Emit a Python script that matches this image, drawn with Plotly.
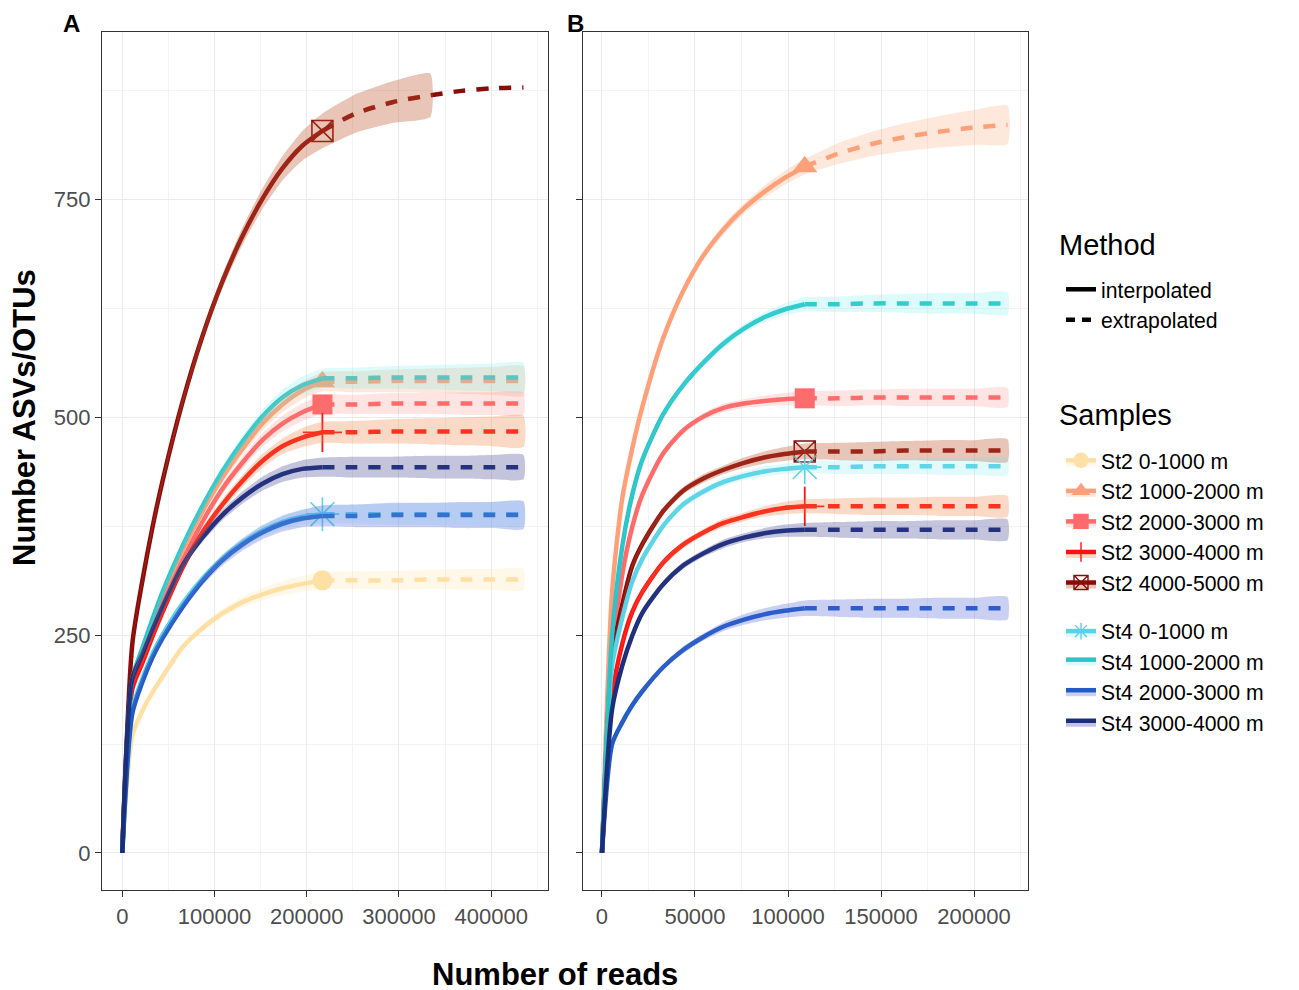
import plotly.graph_objects as go

# ---------------- data ----------------
SAMPLES = ["St2 0-1000 m", "St2 1000-2000 m", "St2 2000-3000 m", "St2 3000-4000 m",
           "St2 4000-5000 m", "St4 0-1000 m", "St4 1000-2000 m", "St4 2000-3000 m",
           "St4 3000-4000 m"]

# Panel A: sample sizes (reads) at the knots, interpolated part and extrapolated part
XA_INT = [0, 10850, 21700, 32550, 43400, 65100, 86800, 108500, 130200, 151900, 173600, 195300, 217000]
XA_EXT = [217000, 253000, 293000, 334000, 368000, 401000, 435000]

A_INTERP = {
    "St2 0-1000 m":    [0, 135, 163, 184, 202, 236, 258, 275, 288, 297, 304, 309, 313],
    "St2 1000-2000 m": [0, 199, 233, 265, 295, 347, 392, 431, 464, 493, 515, 531, 541],
    "St2 2000-3000 m": [0, 197, 228, 258, 285, 335, 380, 418, 448, 474, 493, 506, 515],
    "St2 3000-4000 m": [0, 188, 218, 248, 276, 327, 368, 400, 427, 450, 467, 477, 483],
    "St2 4000-5000 m": [0, 240, 312, 373, 426, 517, 593, 656, 708, 751, 786, 812, 829],
    "St4 0-1000 m":    [0, 165, 200, 228, 250, 286, 315, 338, 356, 370, 380, 386, 389],
    "St4 1000-2000 m": [0, 200, 235, 268, 299, 352, 398, 438, 472, 501, 523, 537, 545],
    "St4 2000-3000 m": [0, 160, 196, 224, 246, 282, 312, 336, 354, 368, 378, 384, 387],
    "St4 3000-4000 m": [0, 200, 228, 256, 282, 330, 362, 388, 408, 424, 435, 441, 443],
}
A_EXTRAP = {
    "St2 0-1000 m":    [313, 313, 314, 314, 314, 314],
    "St2 1000-2000 m": [541, 542, 542, 542, 542, 542],
    "St2 2000-3000 m": [515, 516, 516, 516, 516, 516],
    "St2 3000-4000 m": [483, 484, 484, 484, 484, 484],
    "St2 4000-5000 m": [849, 862, 870, 875, 878, 879],
    "St4 0-1000 m":    [389, 389, 389, 389, 389, 389],
    "St4 1000-2000 m": [545, 546, 546, 546, 546, 546],
    "St4 2000-3000 m": [387, 388, 388, 388, 388, 388],
    "St4 3000-4000 m": [443, 443, 443, 443, 443, 443],
}
# half width of the 95% confidence band (interpolated knots + extrapolated knots)
A_CI = {
    "St2 0-1000 m":    [0, 1, 2, 2, 3, 3, 4, 5, 6, 7, 8, 9, 10, 10, 11, 11, 12, 12, 12],
    "St2 1000-2000 m": [0, 1, 2, 3, 3, 4, 5, 6, 7, 8, 9, 10, 11, 12, 13, 14, 15, 16, 17],
    "St2 2000-3000 m": [0, 1, 2, 3, 3, 4, 5, 6, 7, 8, 9, 10, 11, 11, 12, 12, 13, 13, 13],
    "St2 3000-4000 m": [0, 1, 2, 3, 3, 4, 5, 6, 7, 8, 9, 11, 12, 13, 14, 15, 16, 17, 18],
    "St2 4000-5000 m": [0, 2, 3, 4, 4, 5, 6, 8, 10, 12, 14, 17, 20, 22, 24, 25, None, None, None],
    "St4 0-1000 m":    [0, 1, 2, 2, 3, 3, 4, 5, 6, 7, 8, 9, 10, 11, 12, 13, 13, 14, 14],
    "St4 1000-2000 m": [0, 1, 2, 2, 3, 4, 5, 6, 7, 8, 9, 10, 11, 12, 13, 14, 15, 16, 17],
    "St4 2000-3000 m": [0, 1, 2, 3, 3, 4, 5, 6, 7, 8, 9, 10, 12, 13, 14, 14, 15, 15, 16],
    "St4 3000-4000 m": [0, 1, 2, 3, 3, 4, 5, 6, 7, 8, 9, 10, 11, 12, 12, 13, 13, 14, 14],
}

# Panel B
XB_INT = [0, 5450, 10900, 16350, 21800, 32700, 43600, 54500, 65400, 76300, 87200, 98100, 109000]
XB_EXT = [109000, 127000, 145000, 163000, 181000, 200000, 218000]

B_INTERP = {
    "St2 1000-2000 m": [0, 300, 407, 465, 513, 590, 645, 686, 716, 740, 759, 775, 788],
    "St2 2000-3000 m": [0, 230, 320, 375, 412, 458, 485, 501, 511, 516, 519, 521, 522],
    "St2 3000-4000 m": [0, 180, 240, 277, 300, 333, 354, 368, 379, 386, 392, 396, 398],
    "St2 4000-5000 m": [0, 225, 285, 330, 355, 392, 416, 430, 440, 448, 454, 458, 461],
    "St4 0-1000 m":    [0, 215, 270, 312, 338, 375, 400, 415, 426, 433, 438, 441, 443],
    "St4 1000-2000 m": [0, 250, 352, 412, 452, 503, 537, 563, 585, 602, 615, 624, 630],
    "St4 2000-3000 m": [0, 125, 150, 170, 186, 213, 233, 248, 260, 268, 274, 278, 281],
    "St4 3000-4000 m": [0, 165, 215, 250, 276, 308, 330, 344, 355, 362, 367, 370, 371],
}
B_EXTRAP = {
    "St2 1000-2000 m": [803, 814, 822, 828, 833, 836],
    "St2 2000-3000 m": [522, 523, 523, 523, 523, 523],
    "St2 3000-4000 m": [398, 398, 398, 398, 398, 398],
    "St2 4000-5000 m": [461, 461, 462, 462, 462, 462],
    "St4 0-1000 m":    [443, 444, 444, 444, 444, 444],
    "St4 1000-2000 m": [630, 631, 631, 631, 631, 631],
    "St4 2000-3000 m": [281, 281, 281, 281, 281, 281],
    "St4 3000-4000 m": [371, 371, 371, 371, 371, 371],
}
B_CI = {
    "St2 1000-2000 m": [0, 2, 3, 3, 4, 4, 5, 5, 6, 6, 7, 8, 9, 12, 14, 16, 18, 20, 22],
    "St2 2000-3000 m": [0, 1, 2, 2, 3, 3, 4, 4, 5, 5, 6, 7, 8, 9, 9, 10, 10, 10, 11],
    "St2 3000-4000 m": [0, 1, 2, 2, 3, 3, 4, 4, 5, 5, 6, 7, 8, 9, 10, 10, 11, 11, 12],
    "St2 4000-5000 m": [0, 1, 2, 3, 3, 4, 4, 5, 5, 6, 7, 8, 9, 10, 11, 11, 12, 12, 13],
    "St4 0-1000 m":    [0, 1, 2, 2, 3, 3, 4, 4, 5, 5, 6, 6, 7, 8, 9, 9, 10, 10, 10],
    "St4 1000-2000 m": [0, 1, 2, 2, 3, 3, 4, 4, 5, 5, 6, 7, 8, 9, 10, 11, 12, 12, 13],
    "St4 2000-3000 m": [0, 1, 2, 2, 3, 3, 4, 4, 5, 6, 7, 8, 9, 10, 11, 11, 12, 12, 13],
    "St4 3000-4000 m": [0, 1, 2, 2, 3, 3, 4, 4, 5, 5, 6, 7, 8, 9, 10, 10, 11, 11, 12],
}

Y_TICKS = [0, 250, 500, 750]
XA_TICKS = [0, 100000, 200000, 300000, 400000]
XB_TICKS = [0, 50000, 100000, 150000, 200000]

# ---------------- styles ----------------
LINE_COLORS = {
    "St2 0-1000 m": "#FFE0A6", "St2 1000-2000 m": "#FFA07A", "St2 2000-3000 m": "#FF6A6A",
    "St2 3000-4000 m": "#FF1212", "St2 4000-5000 m": "#8B0A0A", "St4 0-1000 m": "#5AD2E6",
    "St4 1000-2000 m": "#2BC4C8", "St4 2000-3000 m": "#1F5BC2", "St4 3000-4000 m": "#1B2E7C",
}
FILL_COLORS = {
    "St2 0-1000 m": "rgba(255,222,160,0.25)", "St2 1000-2000 m": "rgba(250,165,115,0.25)",
    "St2 2000-3000 m": "rgba(255,120,120,0.2)", "St2 3000-4000 m": "rgba(240,130,70,0.3)",
    "St2 4000-5000 m": "rgba(190,90,50,0.35)", "St4 0-1000 m": "rgba(110,230,240,0.2)",
    "St4 1000-2000 m": "rgba(90,235,235,0.2)", "St4 2000-3000 m": "rgba(80,100,220,0.3)",
    "St4 3000-4000 m": "rgba(60,60,140,0.3)",
}
MARKERS = {
    "St2 0-1000 m": ("circle", 20, 0), "St2 1000-2000 m": ("triangle-up", 22, 0),
    "St2 2000-3000 m": ("square", 20, 0), "St2 3000-4000 m": ("cross-thin-open", 28, 1.8),
    "St2 4000-5000 m": ("square-x-open", 21, 1.6), "St4 0-1000 m": ("asterisk-open", 28, 1.6),
}
FONT = "Liberation Sans, Arial, sans-serif"
LW = 4.5
DASH = "12px,11px"
SMOOTH = 0.7

# page offset of the plot (the browser adds an 8 px body margin)
OFF = 8
W, H = 1299, 990


def px_x(p):
    return (p - OFF) / W


def px_y(p):
    return 1 - (p - OFF) / H


fig = go.Figure()

panels = [
    (XA_INT, XA_EXT, A_INTERP, A_EXTRAP, A_CI, "x", "y"),
    (XB_INT, XB_EXT, B_INTERP, B_EXTRAP, B_CI, "x2", "y2"),
]

# layer 1: observed points
for xi, xe, interp, extrap, ci, xa, ya in panels:
    for name in SAMPLES:
        if name in interp and name in MARKERS:
            sym, size, lw = MARKERS[name]
            fig.add_trace(go.Scatter(
                x=[xi[-1]], y=[interp[name][-1]], mode="markers", xaxis=xa, yaxis=ya,
                marker=dict(symbol=sym, size=size, color=LINE_COLORS[name],
                            line=dict(width=lw, color=LINE_COLORS[name])),
                showlegend=False, hoverinfo="skip"))

# layer 2: lines
for xi, xe, interp, extrap, ci, xa, ya in panels:
    for name in SAMPLES:
        if name not in interp:
            continue
        fig.add_trace(go.Scatter(
            x=xi, y=interp[name], mode="lines", xaxis=xa, yaxis=ya,
            line=dict(color=LINE_COLORS[name], width=LW, shape="spline", smoothing=SMOOTH),
            showlegend=False, hoverinfo="skip"))
        fig.add_trace(go.Scatter(
            x=xe, y=[interp[name][-1]] + extrap[name], mode="lines", xaxis=xa, yaxis=ya,
            line=dict(color=LINE_COLORS[name], width=LW, dash=DASH, shape="spline", smoothing=SMOOTH),
            showlegend=False, hoverinfo="skip"))

# layer 3: confidence bands on top
for xi, xe, interp, extrap, ci, xa, ya in panels:
    for name in SAMPLES:
        if name not in interp:
            continue
        xs = xi + xe[1:]
        ys = interp[name] + extrap[name]
        pts = [(x, y, c) for x, y, c in zip(xs, ys, ci[name]) if c is not None]
        bx = [p[0] for p in pts] + [p[0] for p in reversed(pts)]
        by = [p[1] + p[2] for p in pts] + [p[1] - p[2] for p in reversed(pts)]
        fig.add_trace(go.Scatter(
            x=bx, y=by, mode="lines", fill="toself", fillcolor=FILL_COLORS[name],
            line=dict(width=0, shape="spline", smoothing=0.5), xaxis=xa, yaxis=ya,
            showlegend=False, hoverinfo="skip"))

# legend entries: Method
fig.add_trace(go.Scatter(x=[None], y=[None], mode="lines", name="interpolated",
                         line=dict(color="black", width=LW), legend="legend"))
fig.add_trace(go.Scatter(x=[None], y=[None], mode="lines", name="extrapolated",
                         line=dict(color="black", width=LW, dash="9px,7px"), legend="legend"))
# legend entries: Samples
for name in SAMPLES:
    m = MARKERS.get(name)
    mk = dict(symbol=m[0], size=14, color=LINE_COLORS[name],
              line=dict(width=1.4, color=LINE_COLORS[name])) if m else None
    fig.add_trace(go.Scatter(
        x=[None], y=[None], mode="lines+markers" if m else "lines", name=name,
        line=dict(color=LINE_COLORS[name], width=LW), marker=mk,
        fill="toself", fillcolor=FILL_COLORS[name],
        legend="legend2", legendgroup=name[:3]))

axis_common = dict(
    showgrid=True, gridcolor="#EBEBEB", gridwidth=1.2,
    showline=True, mirror=True, linecolor="#333333", linewidth=1.2,
    ticks="outside", ticklen=6, tickcolor="#333333", tickwidth=1.2,
    tickfont=dict(family=FONT, size=22, color="#4D4D4D"), zeroline=False,
)
minor_x_a = dict(dtick=50000, tick0=0, showgrid=True, gridcolor="#F3F3F3", gridwidth=0.8)
minor_x_b = dict(dtick=25000, tick0=0, showgrid=True, gridcolor="#F3F3F3", gridwidth=0.8)
minor_y = dict(dtick=125, tick0=0, showgrid=True, gridcolor="#F3F3F3", gridwidth=0.8)

LEG_FONT = dict(family=FONT, size=21.2, color="black")

fig.update_layout(
    width=W, height=H, margin=dict(l=0, r=0, t=0, b=0),
    paper_bgcolor="white", plot_bgcolor="white",
    xaxis=dict(domain=[px_x(102), px_x(548)], range=[-22000, 461600],
               tickvals=XA_TICKS, ticktext=[str(v) for v in XA_TICKS],
               minor=minor_x_a, anchor="y", **axis_common),
    xaxis2=dict(domain=[px_x(583), px_x(1028)], range=[-10200, 229000],
                tickvals=XB_TICKS, ticktext=[str(v) for v in XB_TICKS],
                minor=minor_x_b, anchor="y2", **axis_common),
    yaxis=dict(domain=[px_y(890), px_y(32)], range=[-42.5, 942.6],
               tickvals=Y_TICKS, ticktext=[str(v) for v in Y_TICKS],
               minor=minor_y, anchor="x", **axis_common),
    yaxis2=dict(domain=[px_y(890), px_y(32)], range=[-42.5, 942.6], matches="y",
                tickvals=Y_TICKS, showticklabels=False,
                minor=minor_y, anchor="x2", **axis_common),
    legend=dict(x=px_x(1061), y=px_y(269), xanchor="left", yanchor="top",
                font=LEG_FONT, bgcolor="rgba(0,0,0,0)", itemwidth=30, tracegroupgap=0),
    legend2=dict(x=px_x(1061), y=px_y(440), xanchor="left", yanchor="top",
                 font=LEG_FONT, bgcolor="rgba(0,0,0,0)",
                 itemwidth=30, traceorder="grouped", tracegroupgap=18),
    annotations=[
        dict(text="<b>A</b>", x=px_x(72), y=px_y(24), xref="paper", yref="paper",
             xanchor="center", yanchor="middle", showarrow=False,
             font=dict(family=FONT, size=24, color="black")),
        dict(text="<b>B</b>", x=px_x(575), y=px_y(24), xref="paper", yref="paper",
             xanchor="center", yanchor="middle", showarrow=False,
             font=dict(family=FONT, size=24, color="black")),
        dict(text="<b>Number of reads</b>", x=px_x(555), y=px_y(974), xref="paper", yref="paper",
             xanchor="center", yanchor="middle", showarrow=False,
             font=dict(family=FONT, size=31, color="black")),
        dict(text="<b>Number ASVs/OTUs</b>", x=px_x(24), y=px_y(418), xref="paper", yref="paper",
             xanchor="center", yanchor="middle", showarrow=False, textangle=-90,
             font=dict(family=FONT, size=31, color="black")),
        dict(text="Method", x=px_x(1057), y=px_y(245), xref="paper", yref="paper",
             xanchor="left", yanchor="middle", showarrow=False,
             font=dict(family=FONT, size=29, color="black")),
        dict(text="Samples", x=px_x(1057), y=px_y(415), xref="paper", yref="paper",
             xanchor="left", yanchor="middle", showarrow=False,
             font=dict(family=FONT, size=29, color="black")),
    ],
)

fig.write_html("out.html")
